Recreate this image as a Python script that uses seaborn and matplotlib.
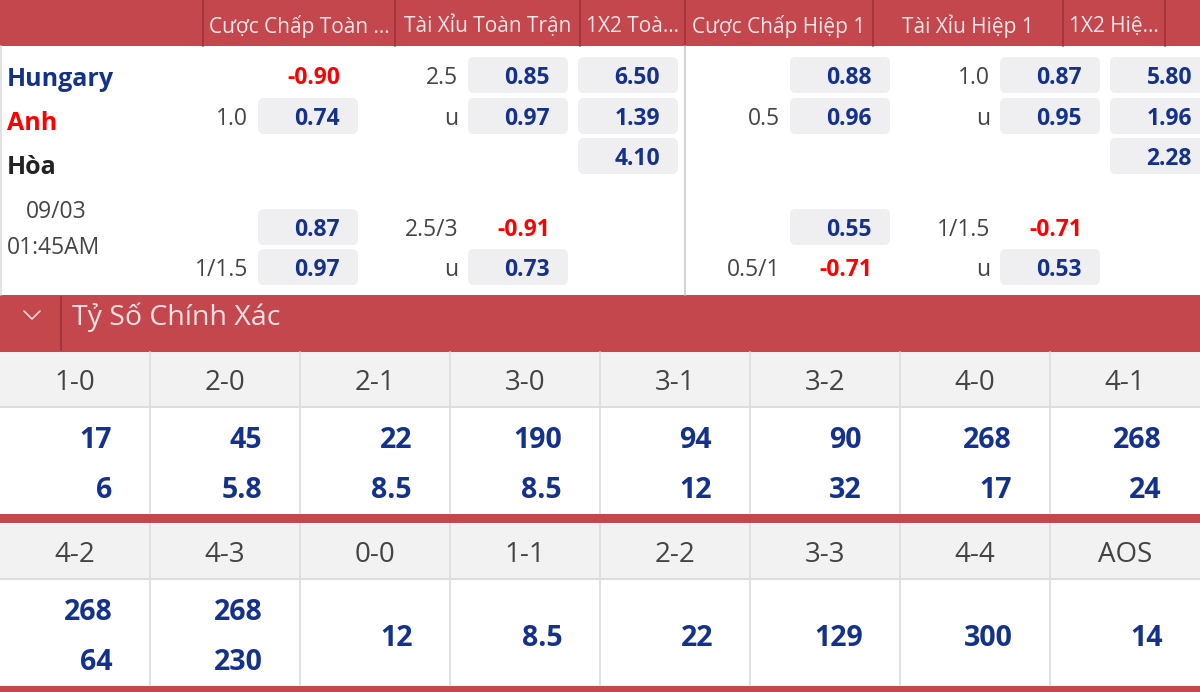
import matplotlib
matplotlib.use('Agg')
import matplotlib.pyplot as plt
import seaborn as sns
from matplotlib.patches import Rectangle, FancyBboxPatch

sns.set_theme(style='white')
plt.rcParams['font.family'] = ['Open Sans', 'Noto Sans', 'DejaVu Sans']

# ---- data ----
headers = ['Cược Chấp Toàn ...', 'Tài Xỉu Toàn Trận', '1X2 Toà...',
           'Cược Chấp Hiệp 1', 'Tài Xỉu Hiệp 1', '1X2 Hiệ...']
teams = ['Hungary', 'Anh', 'Hòa']
team_colors = ['#14318C', '#FF0000', '#222222']
match_date = '09/03'
match_time = '01:45AM'

# rows: 0 home, 1 away, 2 draw, 3 home (2nd line), 4 away (2nd line)
hdp_ft_lines = ['', '1.0', '', '', '1/1.5']
hdp_ft_odds = ['-0.90', '0.74', None, '0.87', '0.97']
ou_ft_lines = ['2.5', 'u', '', '2.5/3', 'u']
ou_ft_odds = ['0.85', '0.97', None, '-0.91', '0.73']
x12_ft_odds = ['6.50', '1.39', '4.10', None, None]
hdp_h1_lines = ['', '0.5', '', '', '0.5/1']
hdp_h1_odds = ['0.88', '0.96', None, '0.55', '-0.71']
ou_h1_lines = ['1.0', 'u', '', '1/1.5', 'u']
ou_h1_odds = ['0.87', '0.95', None, '-0.71', '0.53']
x12_h1_odds = ['5.80', '1.96', '2.28', None, None]

section_title = 'Tỷ Số Chính Xác'
score_labels_1 = ['1-0', '2-0', '2-1', '3-0', '3-1', '3-2', '4-0', '4-1']
home_odds_1 = ['17', '45', '22', '190', '94', '90', '268', '268']
away_odds_1 = ['6', '5.8', '8.5', '8.5', '12', '32', '17', '24']
score_labels_2 = ['4-2', '4-3', '0-0', '1-1', '2-2', '3-3', '4-4', 'AOS']
home_odds_2 = ['268', '268']
away_odds_2 = ['64', '230']
draw_odds_2 = ['12', '8.5', '22', '129', '300', '14']

# ---- style ----
RED = '#C4474E'
RED_DARK = '#A3343C'
BLUE = '#14318C'
NEG = '#FF0000'
GREY_TXT = '#444444'
BOX = '#EFEFF1'
LINE = '#DDDDDD'

fig = plt.figure(figsize=(12, 6.92), dpi=100)
ax = fig.add_axes([0, 0, 1, 1])
ax.set_xlim(0, 1200)
ax.set_ylim(692, 0)
ax.axis('off')

# header band
ax.add_patch(Rectangle((0, 0), 1200, 46, color=RED, lw=0))
dividers = [203, 395, 580, 685, 873, 1063, 1165]
for x in dividers:
    ax.plot([x, x], [0, 46], color=RED_DARK, lw=1.3)
for i, h in enumerate(headers):
    cx = (dividers[i] + dividers[i + 1]) / 2
    ax.text(cx, 26, h, ha='center', va='center', fontsize=15, color='#F7E6E7')

# body lines
ax.plot([685, 685], [46, 295], color='#CCCCCC', lw=1.2)
ax.plot([0.8, 0.8], [46, 295], color='#DDDDDD', lw=1.2)

# teams and time
team_y = [79, 124, 168]
for name, c, y in zip(teams, team_colors, team_y):
    ax.text(7, y, name, ha='left', va='center', fontsize=18, fontweight='bold', color=c)
ax.text(56, 212, match_date, ha='center', va='center', fontsize=16.5, color=GREY_TXT)
ax.text(7, 248, match_time, ha='left', va='center', fontsize=16.5, color=GREY_TXT)

row_top = [57, 98, 138, 209, 249]
box_h = 36
markets = [
    (258, hdp_ft_lines, hdp_ft_odds),
    (468, ou_ft_lines, ou_ft_odds),
    (578, None, x12_ft_odds),
    (790, hdp_h1_lines, hdp_h1_odds),
    (1000, ou_h1_lines, ou_h1_odds),
    (1110, None, x12_h1_odds),
]
for bx, lines, odds in markets:
    for r, top in enumerate(row_top):
        yc = top + box_h / 2 + 3
        if lines is not None and lines[r]:
            ax.text(bx - 10, yc, lines[r], ha='right', va='center', fontsize=16.5, color=GREY_TXT)
        o = odds[r]
        if o is None:
            continue
        if o.startswith('-'):
            ax.text(bx + 82, yc, o, ha='right', va='center', fontsize=16.5,
                    fontweight='bold', color=NEG)
        else:
            ax.add_patch(FancyBboxPatch((bx, top), 100, box_h,
                                        boxstyle='round,pad=0,rounding_size=6',
                                        fc=BOX, ec='none'))
            ax.text(bx + 82, yc, o, ha='right', va='center', fontsize=16.5,
                    fontweight='bold', color=BLUE)

# section band
ax.add_patch(Rectangle((0, 295), 1200, 57, color=RED, lw=0))
ax.plot([24, 32, 40], [311, 319, 311], color='#F2D5D8', lw=1.2)
ax.plot([61, 61], [297, 350], color=RED_DARK, lw=1.5)
ax.text(72, 317, section_title, ha='left', va='center', fontsize=20.5, color='#F7E1E3')

col_w = 150


def score_block(top, labels):
    ax.add_patch(Rectangle((0, top), 1200, 55, color='#F2F2F2', lw=0))
    ax.plot([0, 1200], [top + 55, top + 55], color=LINE, lw=1.5)
    for i in range(1, 8):
        ax.plot([i * col_w, i * col_w], [top, top + 161], color=LINE, lw=1.3)
    for i, lab in enumerate(labels):
        ax.text(i * col_w + 75, top + 31, lab, ha='center', va='center',
                fontsize=20, color=GREY_TXT)


# first score block
score_block(352, score_labels_1)
for i, (h, a) in enumerate(zip(home_odds_1, away_odds_1)):
    ax.text(i * col_w + 112, 440, h, ha='right', va='center', fontsize=20.5,
            fontweight='bold', color=BLUE)
    ax.text(i * col_w + 112, 490, a, ha='right', va='center', fontsize=20.5,
            fontweight='bold', color=BLUE)
ax.add_patch(Rectangle((0, 514), 1200, 9, color=RED, lw=0))

# second score block
score_block(524, score_labels_2)
for i, (h, a) in enumerate(zip(home_odds_2, away_odds_2)):
    ax.text(i * col_w + 113, 612, h, ha='right', va='center', fontsize=20.5,
            fontweight='bold', color=BLUE)
    ax.text(i * col_w + 113, 662, a, ha='right', va='center', fontsize=20.5,
            fontweight='bold', color=BLUE)
for j, d in enumerate(draw_odds_2):
    i = j + len(home_odds_2)
    ax.text(i * col_w + 113, 638, d, ha='right', va='center', fontsize=20.5,
            fontweight='bold', color=BLUE)
ax.add_patch(Rectangle((0, 686), 1200, 6, color=RED, lw=0))

fig.savefig('out.png', dpi=100)
